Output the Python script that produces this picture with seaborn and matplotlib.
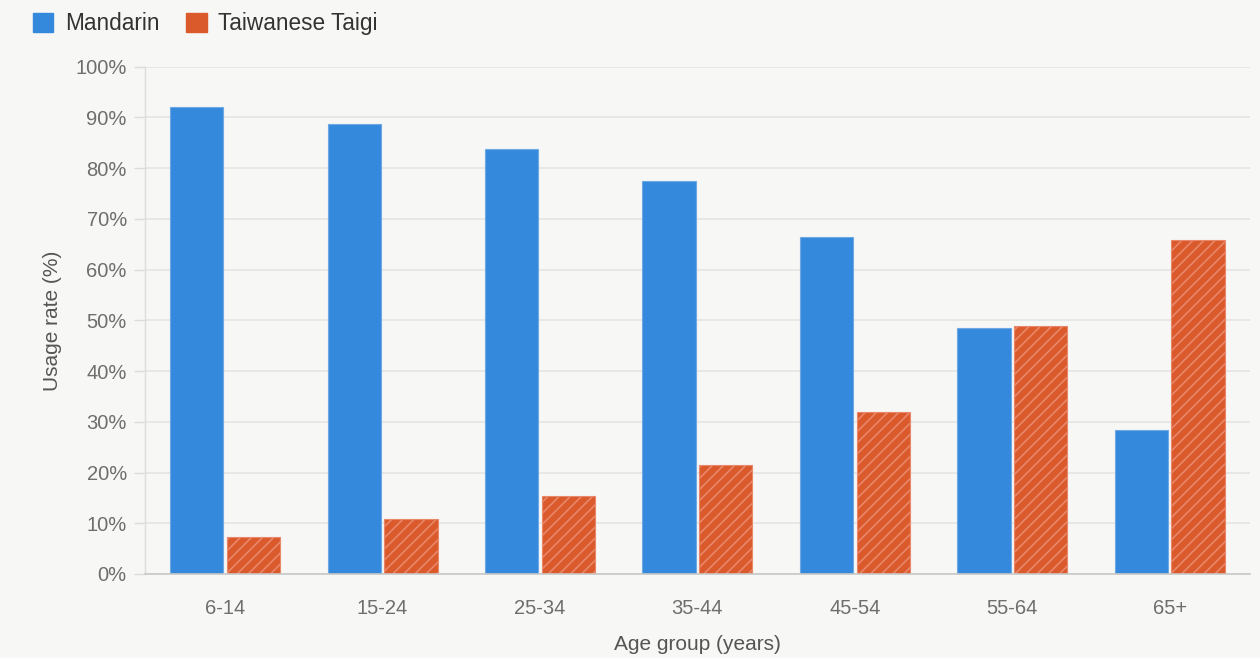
import matplotlib
matplotlib.use("Agg")
import matplotlib.pyplot as plt
import seaborn as sns
import pandas as pd
from matplotlib.patches import Patch
from matplotlib.ticker import FuncFormatter

age_groups = ["6-14", "15-24", "25-34", "35-44", "45-54", "55-64", "65+"]
mandarin = [92.1, 88.6, 83.8, 77.5, 66.5, 48.5, 28.4]
taigi = [7.3, 10.8, 15.4, 21.5, 32.0, 48.9, 65.9]
series_names = ["Mandarin", "Taiwanese Taigi"]
y_ticks = [0, 10, 20, 30, 40, 50, 60, 70, 80, 90, 100]

df = pd.DataFrame({
    "age": age_groups * 2,
    "rate": mandarin + taigi,
    "lang": [series_names[0]] * len(age_groups) + [series_names[1]] * len(age_groups),
})

BG = "#f7f7f5"
BLUE = "#3589dc"
ORANGE = "#db5a2c"

sns.set_theme(style="white")
plt.rcParams["font.family"] = ["Liberation Sans", "DejaVu Sans"]
plt.rcParams["hatch.color"] = "#e8876a"
plt.rcParams["hatch.linewidth"] = 1.2

fig = plt.figure(figsize=(12.6, 6.58), dpi=100, facecolor=BG)
ax = fig.add_axes([0.115, 0.1277, 0.877, 0.771])
ax.set_facecolor(BG)

sns.barplot(data=df, x="age", y="rate", hue="lang", order=age_groups,
            hue_order=series_names, palette=[BLUE, ORANGE],
            width=0.72, gap=0.06, ax=ax, legend=False, errorbar=None,
            saturation=1)

n = len(age_groups)
for i, p in enumerate(ax.patches[:2 * n]):
    if i < n:
        p.set_edgecolor("#6fa9e4")
        p.set_linewidth(0.8)
    else:
        p.set_hatch("///")
        p.set_edgecolor("#e8876a")
        p.set_linewidth(0.8)

ax.set_ylim(0, 100)
ax.set_xlim(-0.51, n - 0.49)
ax.set_yticks(y_ticks)
ax.yaxis.set_major_formatter(FuncFormatter(lambda v, _: f"{int(v)}%"))
ax.yaxis.grid(True, color="#e4e4e2", linewidth=1.2)
ax.set_axisbelow(True)

for s in ["top", "right"]:
    ax.spines[s].set_visible(False)
ax.spines["left"].set_color("#dcdcda")
ax.spines["left"].set_linewidth(1.0)
ax.spines["bottom"].set_color("#c8c8c6")
ax.spines["bottom"].set_linewidth(1.2)

ax.tick_params(axis="y", left=True, length=8, color="#dcdcda", width=1,
               labelsize=14.5, labelcolor="#6e6e6e", pad=5)
ax.tick_params(axis="x", bottom=False, labelsize=14.5, labelcolor="#6e6e6e", pad=12)

ax.set_xlabel("Age group (years)", fontsize=15, color="#555555", labelpad=12)
ax.set_ylabel("Usage rate (%)", fontsize=15, color="#555555", labelpad=10)

handles = [
    Patch(facecolor=BLUE, edgecolor=BLUE, label=series_names[0]),
    Patch(facecolor=ORANGE, edgecolor=ORANGE, hatch="\\\\", label=series_names[1]),
]
fig.legend(handles=handles, loc="upper left", bbox_to_anchor=(0.010, 1.012),
           ncol=2, frameon=False, fontsize=16.3, handlelength=0.9,
           handleheight=0.9, handletextpad=0.5, columnspacing=1.2,
           labelcolor="#333333")

fig.savefig("out.png", dpi=100, facecolor=BG)
